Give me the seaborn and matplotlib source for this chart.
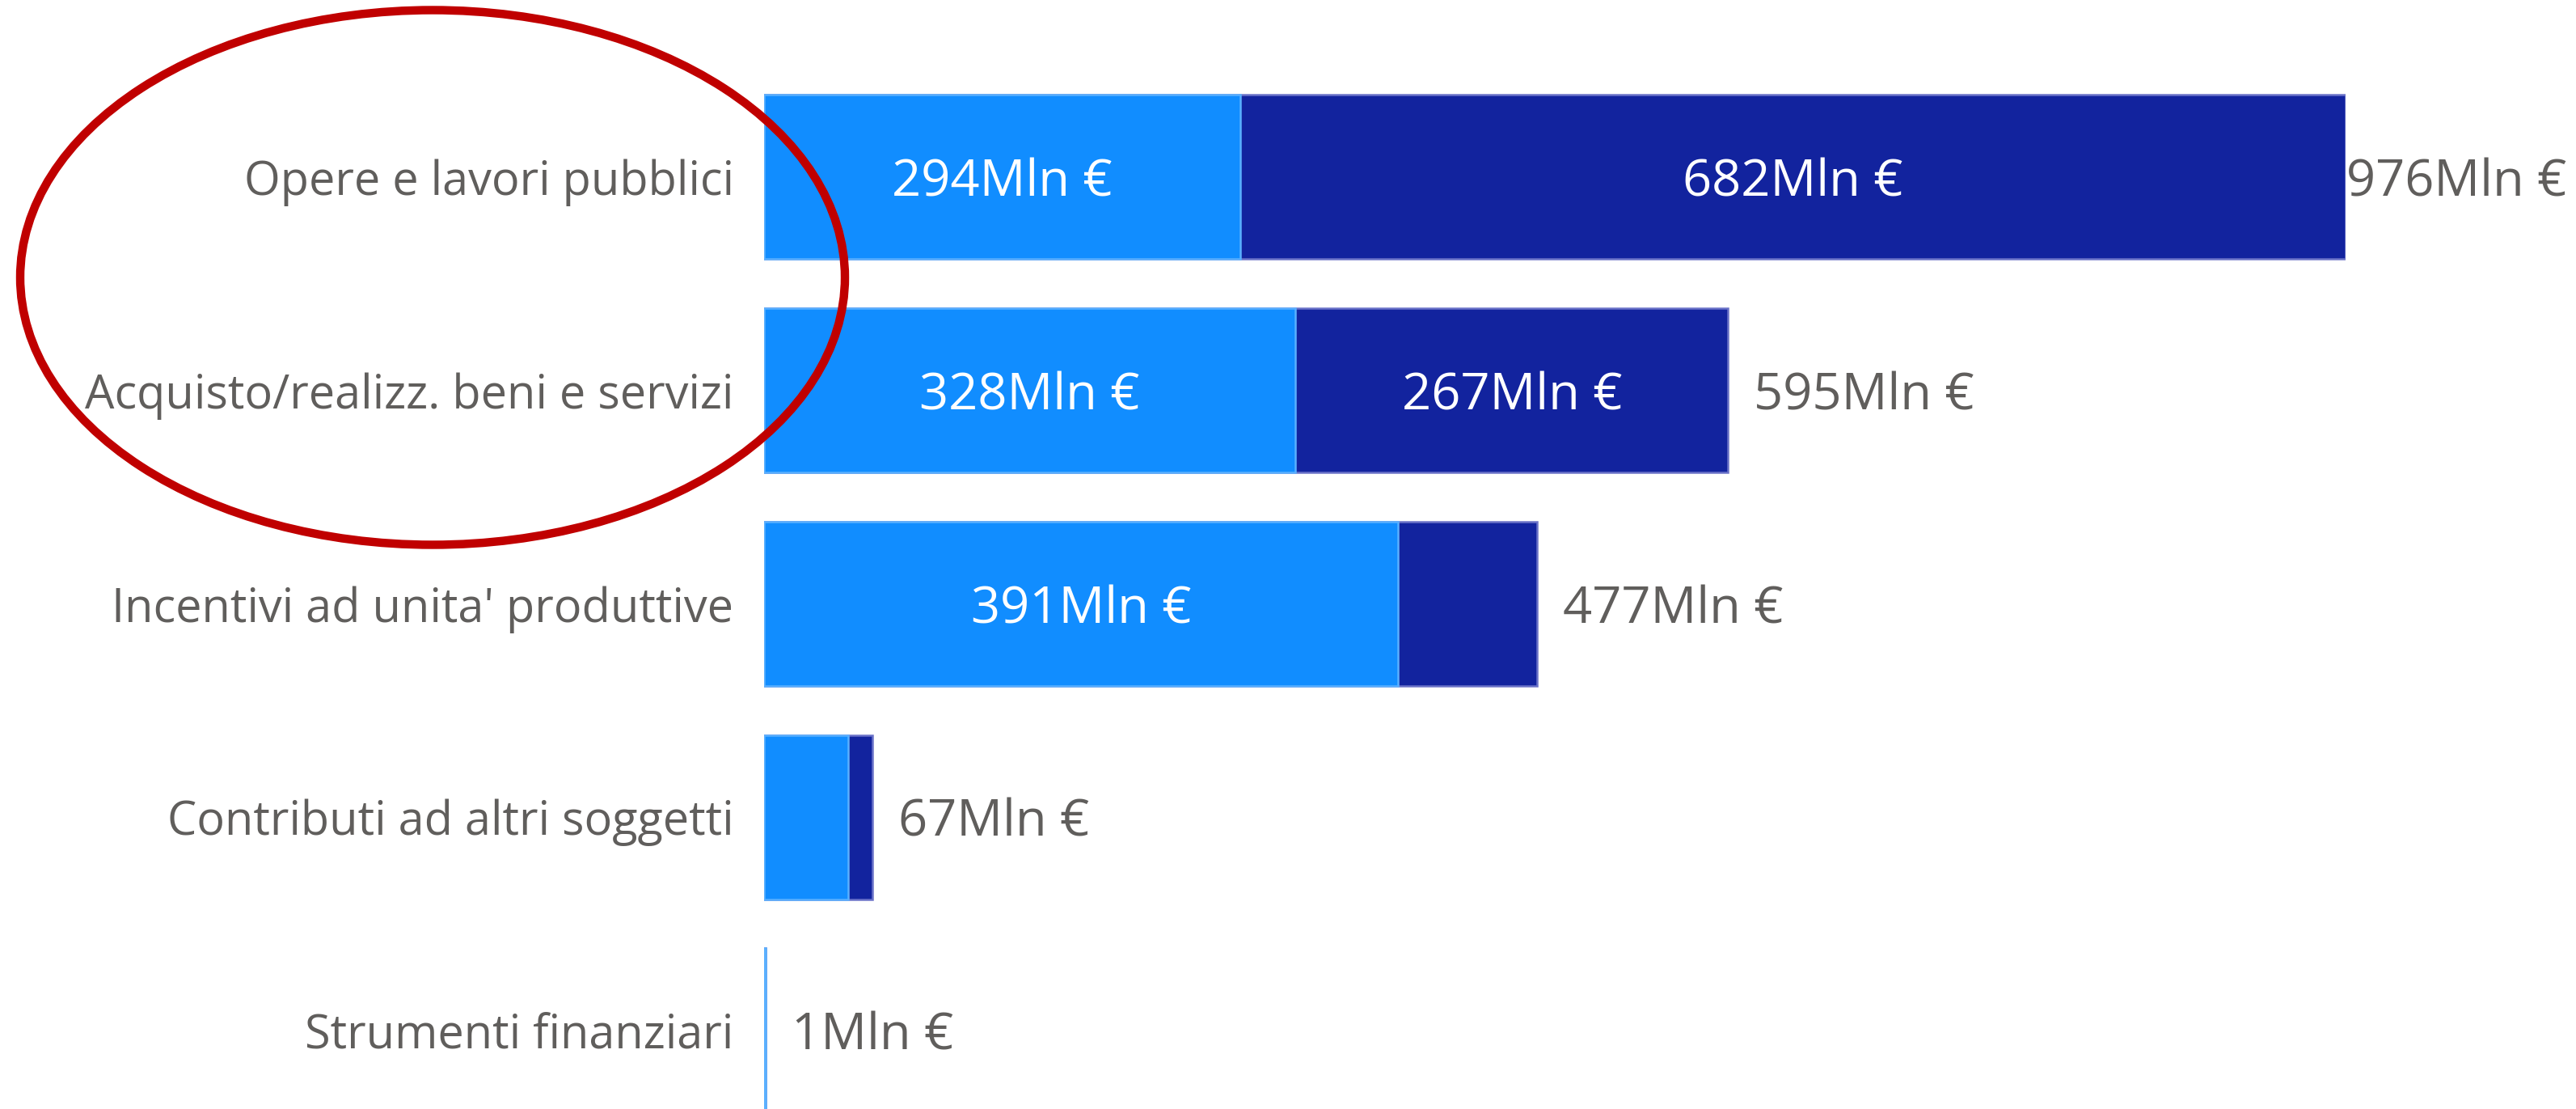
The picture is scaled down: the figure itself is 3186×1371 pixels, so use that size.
import matplotlib
matplotlib.use("Agg")
import matplotlib.pyplot as plt
from matplotlib.patches import Ellipse
import seaborn as sns
import pandas as pd

# ---- data ----
categories = [
    "Opere e lavori pubblici",
    "Acquisto/realizz. beni e servizi",
    "Incentivi ad unita' produttive",
    "Contributi ad altri soggetti",
    "Strumenti finanziari",
]
light_values = [294, 328, 391, 52, 1]
dark_values = [682, 267, 86, 15, 0]
unit = "Mln €"

# ---- style ----
LIGHT = "#118DFF"
DARK = "#12239E"
LIGHT_EDGE = "#5AB0FF"
DARK_EDGE = "#6A72C8"
GRAY = "#605E5C"
FONT = ["Open Sans", "DejaVu Sans"]
FS_CAT = 41.5
FS_VAL = 45.5

sns.set_theme(style="white")
plt.rcParams["font.family"] = FONT

totals = [a + b for a, b in zip(light_values, dark_values)]
df = pd.DataFrame({"cat": categories, "light": light_values,
                   "dark": dark_values, "total": totals})

W, H = 3186, 1371
fig = plt.figure(figsize=(W / 100, H / 100), dpi=100)
ax_left, ax_right = 945, 2901
ax = fig.add_axes([ax_left / W, 0, (ax_right - ax_left) / W, 1])

sns.barplot(data=df, x="total", y="cat", orient="h", color=DARK,
            width=0.77, saturation=1, edgecolor=DARK_EDGE, linewidth=1.8, ax=ax)
sns.barplot(data=df, x="light", y="cat", orient="h", color=LIGHT,
            width=0.77, saturation=1, edgecolor=LIGHT_EDGE, linewidth=1.8, ax=ax)

ax.set_xlim(0, max(totals))
ax.set_ylim(4.368, -0.830)
ax.set_xlabel("")
ax.set_ylabel("")
ax.set_xticks([])
for s in ax.spines.values():
    s.set_visible(False)
ax.tick_params(axis="y", length=0, pad=27, labelsize=FS_CAT, labelcolor=GRAY)
for t in ax.get_yticklabels():
    t.set_fontfamily(FONT)

# in-bar labels (only where the segment is wide enough)
for i, (a, b) in enumerate(zip(light_values, dark_values)):
    if a >= 100:
        ax.text(a / 2, i, f"{a}{unit}", ha="center", va="center_baseline",
                color="white", fontsize=FS_VAL)
    if b >= 100:
        ax.text(a + b / 2, i, f"{b}{unit}", ha="center", va="center_baseline",
                color="white", fontsize=FS_VAL)

# total labels
for i, tot in enumerate(totals):
    offset = 1 if tot == max(totals) else 32
    ax.annotate(f"{tot}{unit}", xy=(tot, i), xytext=(offset, 0),
                textcoords="offset pixels", ha="left", va="center_baseline",
                color=GRAY, fontsize=FS_VAL, annotation_clip=False)

# red ellipse annotation
ell = Ellipse(xy=(535 / W, 1 - 343 / H), width=1020 / W, height=661 / H,
              transform=fig.transFigure, fill=False, edgecolor="#C00000",
              linewidth=7.5, zorder=10)
fig.patches.append(ell)

fig.savefig("out.png", dpi=100, facecolor="white")
